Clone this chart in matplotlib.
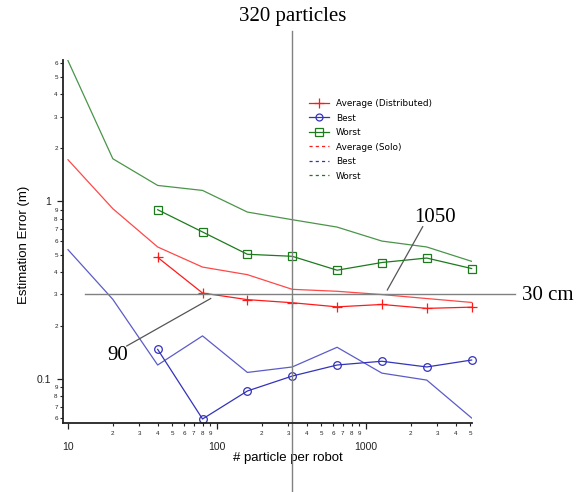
import numpy as np
import matplotlib
matplotlib.use("Agg")
import matplotlib.pyplot as plt
from matplotlib import ticker
from matplotlib.lines import Line2D

# particles per robot
n_dist = [40, 80, 160, 320, 640, 1280, 2560, 5120]
n_solo = [10, 20, 40, 80, 160, 320, 640, 1280, 2560, 5120]

# distributed estimation error (m)
avg_dist = [0.484, 0.305, 0.280, 0.269, 0.255, 0.263, 0.250, 0.254]
best_dist = [0.147, 0.0596, 0.0857, 0.104, 0.120, 0.126, 0.117, 0.128]
worst_dist = [0.898, 0.673, 0.504, 0.491, 0.410, 0.453, 0.480, 0.419]

# solo estimation error (m)
avg_solo = [1.716, 0.910, 0.554, 0.427, 0.387, 0.320, 0.312, 0.299, 0.284, 0.270]
best_solo = [0.535, 0.281, 0.120, 0.175, 0.109, 0.117, 0.151, 0.108, 0.0987, 0.0604]
worst_solo = [6.2, 1.738, 1.230, 1.153, 0.871, 0.789, 0.717, 0.598, 0.554, 0.460]

ref_error = 0.3
ref_particles = 320

red = "#ff1a1a"
blue = "#3333bb"
green = "#1d7a1d"
gray = "#808080"

W, H = 587, 492
fig = plt.figure(figsize=(W / 100, H / 100), dpi=100)
ax = fig.add_axes([63 / W, 1 - 423 / H, (472 - 63) / W, (423 - 60) / H])
ax.set_xscale("log")
ax.set_yscale("log")

# solo runs (thin, no markers)
ax.plot(n_solo, avg_solo, color=red, lw=0.9, alpha=0.8)
ax.plot(n_solo, best_solo, color=blue, lw=0.9, alpha=0.8)
ax.plot(n_solo, worst_solo, color=green, lw=0.9, alpha=0.8)

# distributed runs
ax.plot(n_dist, avg_dist, color=red, lw=0.9, marker="+", ms=7, mew=0.9,
        clip_on=False)
ax.plot(n_dist, best_dist, color=blue, lw=0.9, marker="o", ms=5.5,
        mfc="none", mew=0.9, clip_on=False)
ax.plot(n_dist, worst_dist, color=green, lw=0.9, marker="s", ms=6.2,
        mfc="none", mew=0.9, clip_on=False)

ax.set_xlim(9.26, 5150)
ax.set_ylim(0.0566, 6.25)

# reference lines
ax.plot([13, 10000], [ref_error, ref_error], color=gray, lw=1, clip_on=False)
ax.plot([ref_particles, ref_particles], [9.14, 0.0225], color=gray, lw=1,
        clip_on=False)

for s in ["top", "right"]:
    ax.spines[s].set_visible(False)
for s in ["left", "bottom"]:
    ax.spines[s].set_linewidth(1.3)
    ax.spines[s].set_color("#222222")

def major_fmt(v, p):
    return f"{v:g}"

def minor_fmt(v, p):
    d = int(np.floor(np.log10(v) + 1e-9))
    return str(int(round(v / 10 ** d)))

for axis in (ax.xaxis, ax.yaxis):
    axis.set_major_locator(ticker.LogLocator(base=10, numticks=20))
    axis.set_minor_locator(ticker.LogLocator(base=10, subs=np.arange(2, 10),
                                             numticks=20))
    axis.set_major_formatter(ticker.FuncFormatter(major_fmt))
    axis.set_minor_formatter(ticker.FuncFormatter(minor_fmt))

ax.tick_params(which="major", direction="out", length=4.3, width=0.9,
               labelsize=7.5, colors="#222222")
ax.tick_params(which="minor", direction="out", length=2.3, width=0.8,
               labelsize=4.5, colors="#222222")
ax.tick_params(axis="x", which="major", pad=9.5)
ax.tick_params(axis="x", which="minor", pad=3.5)
ax.tick_params(axis="y", which="major", pad=4.5)
ax.tick_params(axis="y", which="minor", pad=1.5)
for lab in ax.get_xticklabels(which="both") + ax.get_yticklabels(which="both"):
    lab.set_fontfamily("Liberation Sans")

ax.set_xlabel("# particle per robot", fontsize=9.5, family="Liberation Sans")
ax.set_ylabel("Estimation Error (m)", fontsize=9.5, family="Liberation Sans")
ax.xaxis.set_label_coords((288 - 63) / 409, (423 - 452) / 363)
ax.yaxis.set_label_coords((30 - 63) / 409, 0.49)

# legend
handles = [
    Line2D([], [], color=red, lw=0.9, marker="+", ms=7, mew=0.9),
    Line2D([], [], color=blue, lw=0.9, marker="o", ms=5, mfc="none", mew=0.9),
    Line2D([], [], color=green, lw=0.9, marker="s", ms=6, mfc="none", mew=0.9),
    Line2D([], [], color=red, lw=0.9, ls=(0, (2.5, 2.5))),
    Line2D([], [], color=blue, lw=0.9, ls=(0, (2.5, 2.5))),
    Line2D([], [], color=green, lw=0.9, ls=(0, (2.5, 2.5))),
]
labels = ["Average (Distributed)", "Best", "Worst",
          "Average (Solo)", "Best", "Worst"]
fig.legend(handles, labels, loc="upper left",
           bbox_to_anchor=(309 / W, 1 - 99 / H), bbox_transform=fig.transFigure,
           frameon=False, fontsize=6.4, borderpad=0, borderaxespad=0,
           handlelength=2.2, handletextpad=0.8, labelspacing=0.62)

# annotations
serif = "Liberation Serif"
fig.text(293 / W, 1 - 17 / H, "320 particles", ha="center", va="center",
         fontsize=15, family=serif)
fig.text(522 / W, 1 - 295 / H, "30 cm", ha="left", va="center",
         fontsize=15, family=serif)
fig.text(435 / W, 1 - 217 / H, "1050", ha="center", va="center",
         fontsize=15, family=serif)
fig.text(118 / W, 1 - 356 / H, "90", ha="center", va="center",
         fontsize=15, family=serif)
fig.add_artist(Line2D([422.7 / W, 387.3 / W], [1 - 226.7 / H, 1 - 290 / H],
                      color="#555555", lw=0.9, transform=fig.transFigure))
fig.add_artist(Line2D([126.7 / W, 210.7 / W], [1 - 346 / H, 1 - 298.5 / H],
                      color="#555555", lw=0.9, transform=fig.transFigure))

fig.savefig("out.png", dpi=100, facecolor="white")
